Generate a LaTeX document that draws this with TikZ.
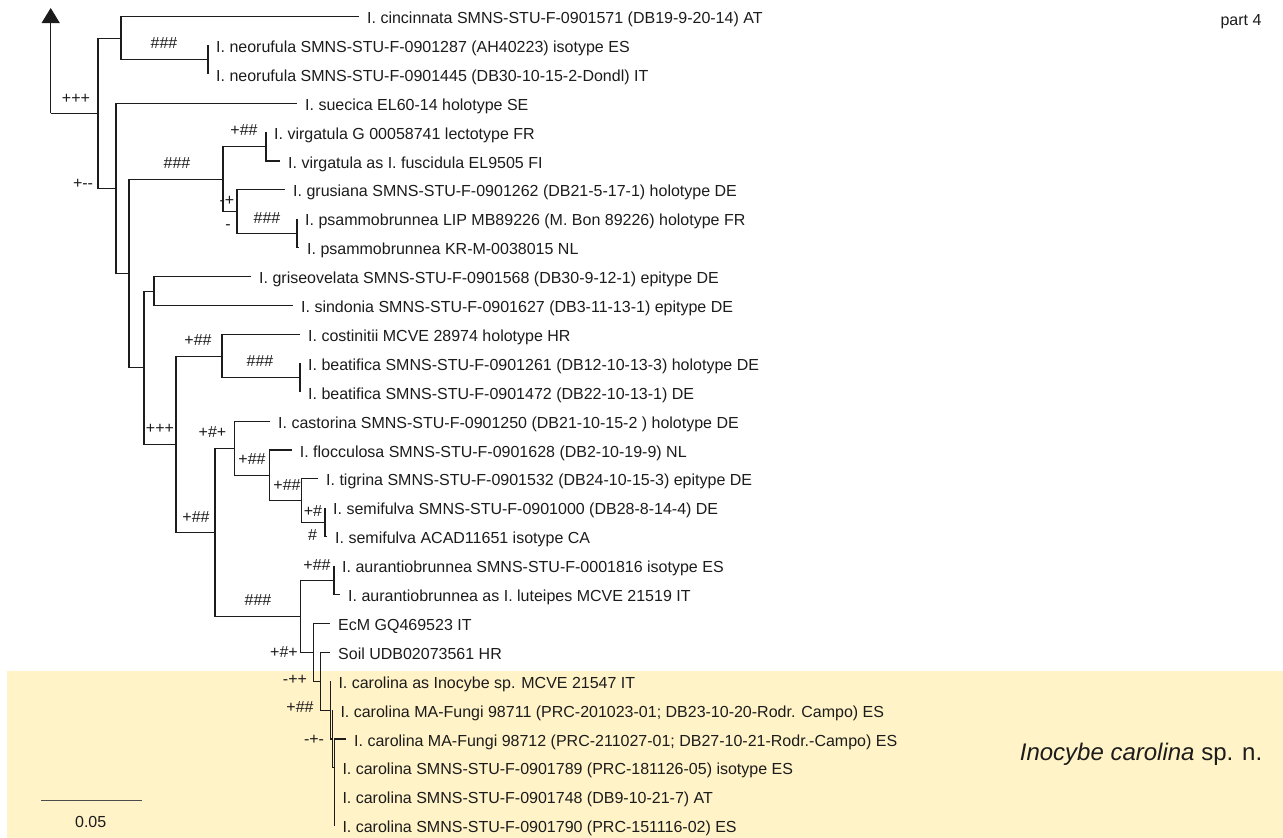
\documentclass[tikz,border=0pt]{standalone}
\usepackage{fontspec}
\setmainfont{Liberation Sans}
\usetikzlibrary{arrows.meta}
\definecolor{cladebg}{RGB}{255,243,199}
\definecolor{ink}{RGB}{28,28,28}

\begin{document}
\begin{tikzpicture}[x=1pt,y=-1pt,
  br/.style={line width=1.1pt,ink},
  leaf/.style={anchor=west,inner xsep=8pt,inner ysep=0pt,text height=14pt,text depth=0pt,
    font=\fontsize{16}{18}\selectfont,text=ink},
  sup/.style={inner sep=0pt,text height=11.5pt,text depth=0pt,
    font=\fontsize{16}{18}\selectfont,text=ink}]
  \useasboundingbox (0,0) rectangle (1283,838);
  \fill[cladebg] (7.3,670.7) rectangle (1283,838);

  % leaves
  \node[leaf] (cinc) at (359,16.5) {I. cincinnata SMNS-STU-F-0901571 (DB19-9-20-14) AT};
  \node[leaf] (neo1) at (208,45.4) {I. neorufula SMNS-STU-F-0901287 (AH40223) isotype ES};
  \node[leaf] (neo2) at (208,74.3) {I. neorufula SMNS-STU-F-0901445 (DB30-10-15-2-Dondl) IT};
  \node[leaf] (suec) at (297,103.2) {I. suecica EL60-14 holotype SE};
  \node[leaf] (virg1) at (266,132.1) {I. virgatula G 00058741 lectotype FR};
  \node[leaf] (virg2) at (280,161.0) {I. virgatula as I. fuscidula EL9505 FI};
  \node[leaf] (grus) at (285,189.9) {I. grusiana SMNS-STU-F-0901262 (DB21-5-17-1) holotype DE};
  \node[leaf] (psam1) at (297,218.8) {I. psammobrunnea LIP MB89226 (M. Bon 89226) holotype FR};
  \node[leaf] (psam2) at (299,247.7) {I. psammobrunnea KR-M-0038015 NL};
  \node[leaf] (gris) at (251,276.6) {I. griseovelata SMNS-STU-F-0901568 (DB30-9-12-1) epitype DE};
  \node[leaf] (sind) at (293,305.5) {I. sindonia SMNS-STU-F-0901627 (DB3-11-13-1) epitype DE};
  \node[leaf] (cost) at (300,334.4) {I. costinitii MCVE 28974 holotype HR};
  \node[leaf] (beat1) at (300,363.3) {I. beatifica SMNS-STU-F-0901261 (DB12-10-13-3) holotype DE};
  \node[leaf] (beat2) at (300,392.2) {I. beatifica SMNS-STU-F-0901472 (DB22-10-13-1) DE};
  \node[leaf] (cast) at (270,421.1) {I. castorina SMNS-STU-F-0901250 (DB21-10-15-2 ) holotype DE};
  \node[leaf] (floc) at (291.7,450.0) {I. flocculosa SMNS-STU-F-0901628 (DB2-10-19-9) NL};
  \node[leaf] (tigr) at (318,478.9) {I. tigrina SMNS-STU-F-0901532 (DB24-10-15-3) epitype DE};
  \node[leaf] (semi1) at (325,507.8) {I. semifulva SMNS-STU-F-0901000 (DB28-8-14-4) DE};
  \node[leaf] (semi2) at (327,536.7) {I. semifulva ACAD11651 isotype CA};
  \node[leaf] (aura1) at (334,565.6) {I. aurantiobrunnea SMNS-STU-F-0001816 isotype ES};
  \node[leaf] (aura2) at (340,594.5) {I. aurantiobrunnea as I. luteipes MCVE 21519 IT};
  \node[leaf] (ecm) at (330,623.4) {EcM GQ469523 IT};
  \node[leaf] (soil) at (330,652.3) {Soil UDB02073561 HR};
  \node[leaf] (caro1) at (330.3,681.2) {I. carolina as Inocybe sp. MCVE 21547 IT};
  \node[leaf] (caro2) at (332.3,710.1) {I. carolina MA-Fungi 98711 (PRC-201023-01; DB23-10-20-Rodr. Campo) ES};
  \node[leaf] (caro3) at (346,739.0) {I. carolina MA-Fungi 98712 (PRC-211027-01; DB27-10-21-Rodr.-Campo) ES};
  \node[leaf] (caro4) at (334.3,767.9) {I. carolina SMNS-STU-F-0901789 (PRC-181126-05) isotype ES};
  \node[leaf] (caro5) at (334.3,796.8) {I. carolina SMNS-STU-F-0901748 (DB9-10-21-7) AT};
  \node[leaf] (caro6) at (334.3,825.7) {I. carolina SMNS-STU-F-0901790 (PRC-151116-02) ES};

  % inner nodes
  \coordinate (root) at (50.7,113.25);
  \coordinate (up) at (50.7,8);
  \coordinate (nA) at (98,113.25);
  \coordinate (nB) at (121,38.2);
  \coordinate (nNeo) at (208,59.85);
  \coordinate (nC) at (116,188.3);
  \coordinate (nD) at (129,273.35);
  \coordinate (nE) at (223,179.1);
  \coordinate (nVirg) at (266,146.55);
  \coordinate (nG) at (237,211.6);
  \coordinate (nPsam) at (297,233.25);
  \coordinate (nF) at (144,367.6);
  \coordinate (nH) at (154,291.05);
  \coordinate (nI) at (176,444.15);
  \coordinate (nJ) at (222,356.1);
  \coordinate (nBeat) at (300,377.75);
  \coordinate (nK) at (215,532.2);
  \coordinate (nL) at (234.5,448.2);
  \coordinate (nN) at (269.3,475.3);
  \coordinate (nO) at (301.7,500.6);
  \coordinate (nSemi) at (325,522.25);
  \coordinate (nM) at (300.7,616.2);
  \coordinate (nAura) at (334,580.05);
  \coordinate (nS) at (313.3,652.3);
  \coordinate (nT) at (320.7,681.2);
  \coordinate (nU) at (330.3,710.1);
  \coordinate (nW) at (332.3,739.0);
  \coordinate (nX) at (334.3,767.9);
  \coordinate (nY) at (334.3,796.8);

  \draw[br,-{Triangle[width=18pt,length=15pt]}] (root) -- (up);
  \draw[br] (root) -- (nA);
  \draw[br] (nA) |- (nB) (nA) |- (nC);
  \draw[br] (nB) |- (cinc.west) (nB) |- (nNeo);
  \draw[br] (nNeo) |- (neo1.west) (nNeo) |- (neo2.west);
  \draw[br] (nC) |- (suec.west) (nC) |- (nD);
  \draw[br] (nD) |- (nE) (nD) |- (nF);
  \draw[br] (nE) |- (nVirg) (nE) |- (nG);
  \draw[br] (nVirg) |- (virg1.west) (nVirg) |- (virg2.west);
  \draw[br] (nG) |- (grus.west) (nG) |- (nPsam);
  \draw[br] (nPsam) |- (psam1.west) (nPsam) |- (psam2.west);
  \draw[br] (nF) |- (nH) (nF) |- (nI);
  \draw[br] (nH) |- (gris.west) (nH) |- (sind.west);
  \draw[br] (nI) |- (nJ) (nI) |- (nK);
  \draw[br] (nJ) |- (cost.west) (nJ) |- (nBeat);
  \draw[br] (nBeat) |- (beat1.west) (nBeat) |- (beat2.west);
  \draw[br] (nK) |- (nL) (nK) |- (nM);
  \draw[br] (nL) |- (cast.west) (nL) |- (nN);
  \draw[br] (nN) |- (floc.west) (nN) |- (nO);
  \draw[br] (nO) |- (tigr.west) (nO) |- (nSemi);
  \draw[br] (nSemi) |- (semi1.west) (nSemi) |- (semi2.west);
  \draw[br] (nM) |- (nAura) (nM) |- (nS);
  \draw[br] (nAura) |- (aura1.west) (nAura) |- (aura2.west);
  \draw[br] (nS) |- (ecm.west) (nS) |- (nT);
  \draw[br] (nT) |- (soil.west) (nT) |- (nU);
  \draw[br] (nU) |- (caro1.west) (nU) |- (nW);
  \draw[br] (nW) |- (caro2.west) (nW) |- (nX);
  \draw[br] (nX) |- (caro3.west) (nX) |- (nY);
  \draw[br] (nY) |- (caro4.west) (nY) |- (caro5.west) (nY) |- (caro6.west);

  % support values
  \node[sup] (sA) at (76,98) {+++};
  \node[sup] (sNeo) at (164,43) {\#\#\#};
  \node[sup] (sC) at (83,183) {+-{}-};
  \node[sup] (sE) at (177,163) {\#\#\#};
  \node[sup] (sVirg) at (244,130) {+\#\#};
  \node[sup] (sG) at (227,200) {-+};
  \node[sup] (sGb) at (228,224) {-};
  \node[sup] (sPsam) at (267,218) {\#\#\#};
  \node[sup] (sJ) at (198,340) {+\#\#};
  \node[sup] (sBeat) at (260,361) {\#\#\#};
  \node[sup] (sI) at (160,428) {+++};
  \node[sup] (sL) at (212.5,432) {+\#+};
  \node[sup] (sN) at (252,459) {+\#\#};
  \node[sup] (sO) at (287,485) {+\#\#};
  \node[sup] (sSemi) at (313,511) {+\#};
  \node[sup] (sSemib) at (312.5,535) {\#};
  \node[sup] (sK) at (196,517) {+\#\#};
  \node[sup] (sAura) at (317,565) {+\#\#};
  \node[sup] (sM) at (258,600) {\#\#\#};
  \node[sup] (sS) at (284,652) {+\#+};
  \node[sup] (sT) at (295,679) {-++};
  \node[sup] (sU) at (300,707) {+\#\#};
  \node[sup] (sW) at (314,739) {-+-};

  \node[sup] (part) at (1241,20) {part 4};
  \node[sup,font=\fontsize{24}{28}\selectfont,text height=17pt] (clade) at (1141,752)
    {\textit{Inocybe carolina} sp. n.};

  \coordinate (sbl) at (41,800.7);
  \coordinate (sbr) at (142.3,800.7);
  \draw[line width=1.3pt,gray!60!black] (sbl) -- (sbr);
  \node[sup] (sbtext) at (90.7,821.7) {0.05};
\end{tikzpicture}
\end{document}
